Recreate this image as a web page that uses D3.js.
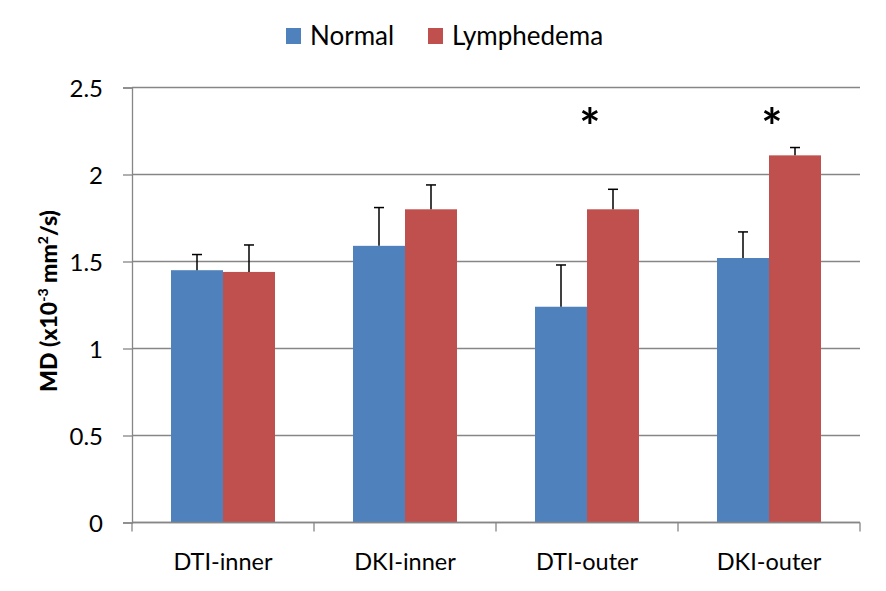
<!DOCTYPE html>
<html><head><meta charset="utf-8">
<script src="https://cdn.jsdelivr.net/npm/d3@7"></script>
<style>body{margin:0;background:#fff}svg{display:block}text{font-family:Lato,"Open Sans",sans-serif;fill:#000}</style>
</head><body><svg id="c" width="886" height="591"></svg>
<script>
const categories = ["DTI-inner","DKI-inner","DTI-outer","DKI-outer"];
const seriesNames = ["Normal","Lymphedema"];
const normal = [1.45, 1.59, 1.24, 1.52];
const lymphedema = [1.44, 1.80, 1.80, 2.11];
const normalErr = [0.09, 0.22, 0.24, 0.15];
const lymphedemaErr = [0.155, 0.14, 0.115, 0.045];
const significant = [false, false, true, true];
const yTicks = [0, 0.5, 1, 1.5, 2, 2.5];
const colors = ["#4F81BD","#C0504D"];

const svg = d3.select("#c");
const L = 132, R = 860, T = 87.5, B = 522.5;
const x = d3.scaleBand().domain(categories).range([L,R]).paddingInner(0).paddingOuter(0);
const bw = x.bandwidth()/3.5;
const xs = d3.scaleBand().domain(seriesNames).range([0, 2*bw]);
const y = d3.scaleLinear().domain([0,2.5]).range([B,T]);
const grid = "#868686";

// gridlines
svg.append("g").selectAll("line").data(yTicks).join("line")
  .attr("x1",L).attr("x2",R).attr("y1",d=>y(d)).attr("y2",d=>y(d))
  .attr("stroke",grid).attr("stroke-width",1.3);
// y axis
const ya = svg.append("g").attr("transform",`translate(${L},0)`)
  .call(d3.axisLeft(y).tickValues(yTicks).tickFormat(d=>String(d)).tickSize(9).tickPadding(20));
ya.select(".domain").attr("stroke",grid).attr("stroke-width",1.3);
ya.selectAll(".tick line").attr("stroke",grid).attr("stroke-width",1.3);
ya.selectAll(".tick text").attr("font-size",24).attr("font-family","Lato").attr("fill","#000").attr("dy","0.36em");

const data = categories.map((c,i)=>({c, vals:[
  {s:seriesNames[0], v:normal[i], e:normalErr[i]},
  {s:seriesNames[1], v:lymphedema[i], e:lymphedemaErr[i]}], sig:significant[i]}));

const g = svg.append("g").selectAll("g").data(data).join("g")
  .attr("transform",d=>`translate(${x(d.c)+0.75*bw},0)`);
g.selectAll("rect").data(d=>d.vals).join("rect")
  .attr("x",d=>xs(d.s)).attr("width",xs.bandwidth())
  .attr("y",d=>y(d.v)).attr("height",d=>y(0)-y(d.v))
  .attr("fill",(d,i)=>colors[i]);
g.selectAll("line.err").data(d=>d.vals).join("line").attr("class","err")
  .attr("x1",d=>xs(d.s)+xs.bandwidth()/2).attr("x2",d=>xs(d.s)+xs.bandwidth()/2)
  .attr("y1",d=>y(d.v)).attr("y2",d=>y(d.v+d.e)).attr("stroke","#000").attr("stroke-width",1.5);
g.selectAll("line.cap").data(d=>d.vals).join("line").attr("class","cap")
  .attr("x1",d=>xs(d.s)+xs.bandwidth()/2-5).attr("x2",d=>xs(d.s)+xs.bandwidth()/2+5)
  .attr("y1",d=>y(d.v+d.e)).attr("y2",d=>y(d.v+d.e)).attr("stroke","#000").attr("stroke-width",1.5);
g.filter(d=>d.sig).append("text").text("*")
  .attr("x",xs(seriesNames[1])+3).attr("y",y(2.5)+57)
  .attr("text-anchor","middle").attr("font-size",50).attr("font-weight","bold").attr("font-family","DejaVu Sans");

// x axis
svg.append("line").attr("x1",L).attr("x2",R).attr("y1",B).attr("y2",B).attr("stroke",grid).attr("stroke-width",1.3);
const bounds = categories.map(c=>x(c)).concat([R]);
svg.append("g").selectAll("line").data(bounds).join("line")
  .attr("x1",d=>d).attr("x2",d=>d).attr("y1",B).attr("y2",B+9).attr("stroke",grid).attr("stroke-width",1.3);
svg.append("g").selectAll("text").data(categories).join("text")
  .attr("x",d=>x(d)+x.bandwidth()/2).attr("y",570).attr("text-anchor","middle")
  .attr("font-size",23.5).text(d=>d);

// y title
const yt = svg.append("text").attr("transform","translate(57,301) rotate(-90)")
  .attr("font-size",23).attr("font-weight","900")
  .html('MD (x10<tspan dy="-9" font-size="14">-3</tspan><tspan dy="9"> mm</tspan><tspan dy="-9" font-size="14">2</tspan><tspan dy="9">/s)</tspan>');
const bb = yt.node().getBBox();
yt.attr("x", -bb.width/2);

// legend
const lg = svg.append("g").selectAll("g").data(seriesNames).join("g")
  .attr("transform",(d,i)=>`translate(${[286,428][i]},28)`);
lg.append("rect").attr("width",15).attr("height",16).attr("fill",(d,i)=>colors[i]);
lg.append("text").attr("x",24).attr("y",17).attr("font-size",26).text(d=>d);
</script></body></html>
